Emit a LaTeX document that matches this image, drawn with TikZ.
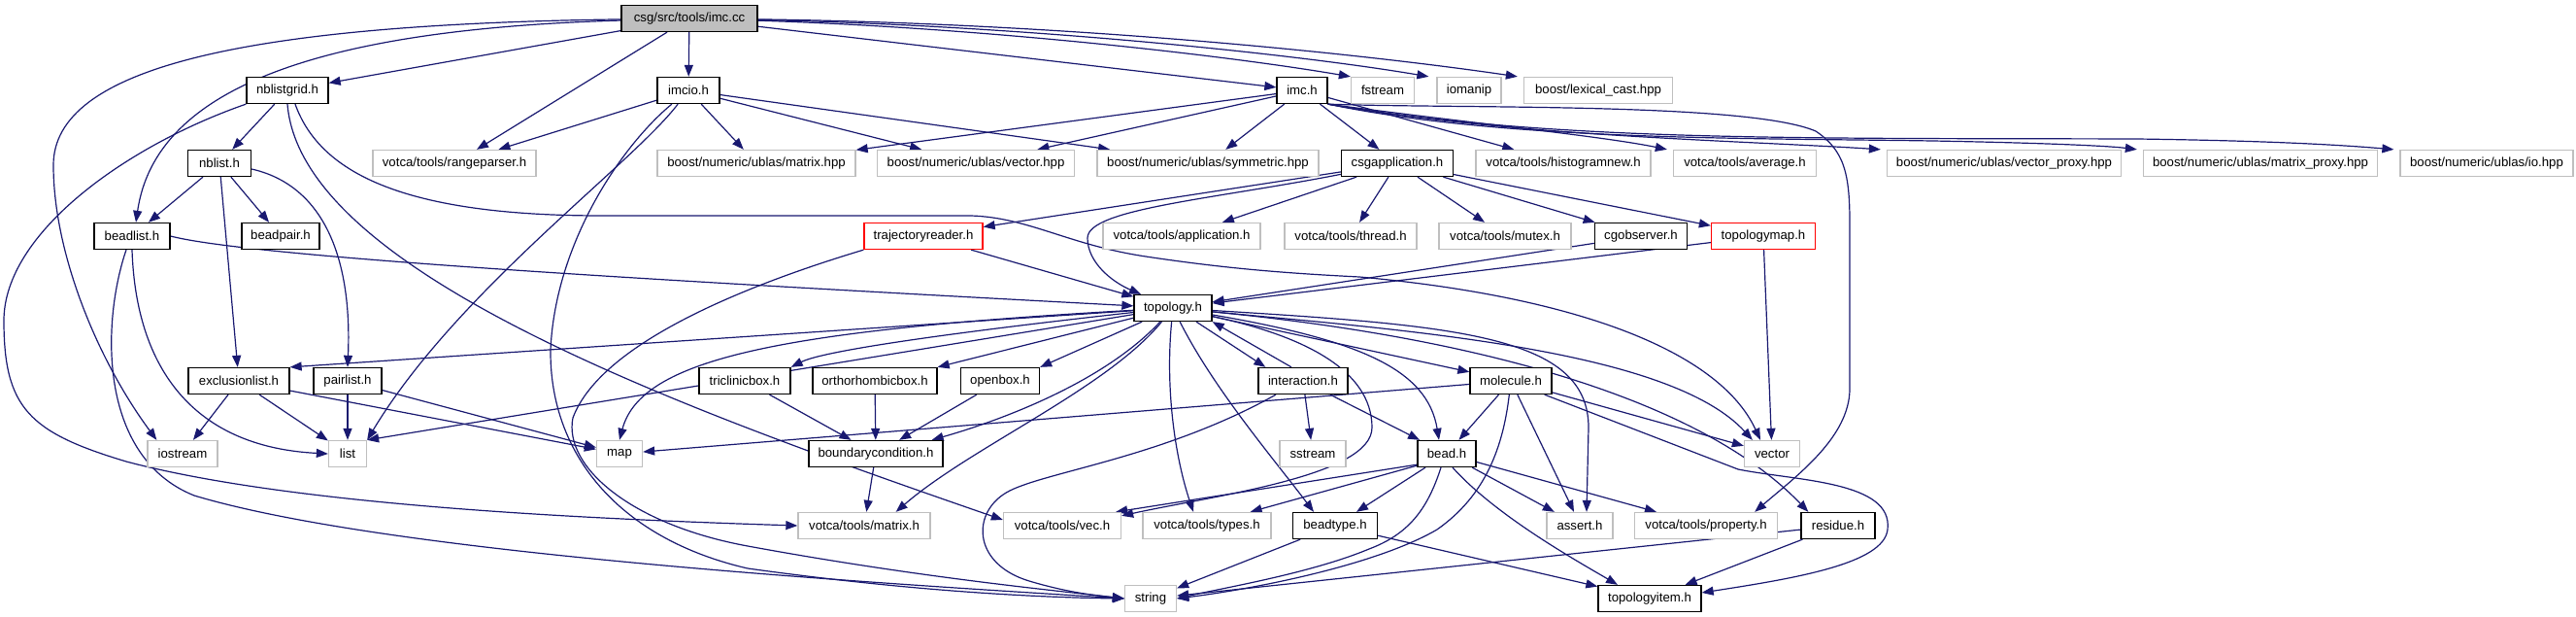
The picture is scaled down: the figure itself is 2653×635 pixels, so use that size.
\documentclass[tikz,border=0pt]{standalone}
\usepackage{fontspec}
\setmainfont{Liberation Sans}
\usetikzlibrary{arrows.meta}
\definecolor{edgeblue}{HTML}{191970}
\definecolor{extgray}{HTML}{BFBFBF}
\definecolor{incred}{HTML}{FF0000}
\pgfdeclarelayer{bg}
\pgfsetlayers{bg,main}
\tikzset{
  box/.style={rectangle, fill=white, minimum height=13.5pt, inner sep=0pt, line width=0.65pt, font=\fontsize{6.6pt}{7.5pt}\selectfont},
  doc/.style={box, draw=black},
  ext/.style={box, draw=extgray},
  redbox/.style={box, draw=incred},
  cur/.style={box, draw=black, fill=extgray},
  dep/.style={draw=edgeblue, line width=0.6pt, -{Triangle[length=6pt,width=4.5pt]}}
}
\begin{document}
\begin{tikzpicture}[x=0.5pt,y=-0.5pt]
\useasboundingbox (0,0) rectangle (2653,635);
% row 0
\node[cur, minimum width=70pt] (imccc) at (710,19) {csg/src/tools/imc.cc};
% row 1
\node[doc, minimum width=42pt] (nblistgrid) at (296,93) {nblistgrid.h};
\node[doc, minimum width=32pt] (imcio) at (709,93) {imcio.h};
\node[doc, minimum width=26pt] (imch) at (1341,93) {imc.h};
\node[ext, minimum width=32.5pt] (fstream) at (1424,93) {fstream};
\node[ext, minimum width=33pt] (iomanip) at (1513,93) {iomanip};
\node[ext, minimum width=76.5pt] (lexical) at (1646,93) {boost/lexical\_cast.hpp};
% row 2
\node[doc, minimum width=32.5pt] (nblist) at (226,168) {nblist.h};
\node[ext, minimum width=84pt] (rangeparser) at (468,168) {votca/tools/rangeparser.h};
\node[ext, minimum width=102pt] (matrixhpp) at (779,168) {boost/numeric/ublas/matrix.hpp};
\node[ext, minimum width=101.5pt] (vectorhpp) at (1005,168) {boost/numeric/ublas/vector.hpp};
\node[ext, minimum width=114pt] (symmetric) at (1244,168) {boost/numeric/ublas/symmetric.hpp};
\node[doc, minimum width=57.5pt] (csgapp) at (1439,168) {csgapplication.h};
\node[ext, minimum width=90pt] (histogram) at (1610,168) {votca/tools/histogramnew.h};
\node[ext, minimum width=73.5pt] (average) at (1797,168) {votca/tools/average.h};
\node[ext, minimum width=120.5pt] (vecproxy) at (2064,168) {boost/numeric/ublas/vector\_proxy.hpp};
\node[ext, minimum width=120.5pt] (matproxy) at (2328,168) {boost/numeric/ublas/matrix\_proxy.hpp};
\node[ext, minimum width=89pt] (iohpp) at (2561,168) {boost/numeric/ublas/io.hpp};
% row 3
\node[doc, minimum width=39pt] (beadlist) at (136,243) {beadlist.h};
\node[doc, minimum width=40pt] (beadpair) at (289,243) {beadpair.h};
\node[redbox, minimum width=61pt] (trajreader) at (951,243) {trajectoryreader.h};
\node[ext, minimum width=81pt] (application) at (1217,243) {votca/tools/application.h};
\node[ext, minimum width=68pt] (thread) at (1391,243) {votca/tools/thread.h};
\node[ext, minimum width=68pt] (mutex) at (1550,243) {votca/tools/mutex.h};
\node[doc, minimum width=47.5pt] (cgobserver) at (1690,243) {cgobserver.h};
\node[redbox, minimum width=53.5pt] (topomap) at (1816,243) {topologymap.h};
% row 4
\node[doc, minimum width=40pt] (topology) at (1208,317) {topology.h};
% row 5
\node[doc, minimum width=52pt] (exclusion) at (246,392) {exclusionlist.h};
\node[doc, minimum width=35pt] (pairlist) at (358,392) {pairlist.h};
\node[doc, minimum width=47pt] (triclinic) at (767,392) {triclinicbox.h};
\node[doc, minimum width=64pt] (ortho) at (901,392) {orthorhombicbox.h};
\node[doc, minimum width=40.5pt] (openbox) at (1030,392) {openbox.h};
\node[doc, minimum width=46pt] (interaction) at (1342,392) {interaction.h};
\node[doc, minimum width=42pt] (molecule) at (1556,392) {molecule.h};
% row 6
\node[ext, minimum width=36pt] (iostream) at (188,467) {iostream};
\node[ext, minimum width=19.5pt] (list) at (358,467) {list};
\node[ext, minimum width=23.5pt] (map) at (638,467) {map};
\node[doc, minimum width=69pt] (boundary) at (902,467) {boundarycondition.h};
\node[ext, minimum width=34pt] (sstream) at (1352,467) {sstream};
\node[doc, minimum width=30pt] (bead) at (1490,467) {bead.h};
\node[ext, minimum width=28.5pt] (vector) at (1825,467) {vector};
% row 7
\node[ext, minimum width=68pt] (matrixh) at (890,541) {votca/tools/matrix.h};
\node[ext, minimum width=60.5pt] (vech) at (1094,541) {votca/tools/vec.h};
\node[ext, minimum width=66pt] (typesh) at (1243,541) {votca/tools/types.h};
\node[doc, minimum width=43.5pt] (beadtype) at (1375,541) {beadtype.h};
\node[ext, minimum width=34pt] (asserth) at (1627,541) {assert.h};
\node[ext, minimum width=73.5pt] (property) at (1757,541) {votca/tools/property.h};
\node[doc, minimum width=38pt] (residue) at (1893,541) {residue.h};
% row 8
\node[ext, minimum width=26.5pt] (string) at (1185,616) {string};
\node[doc, minimum width=53pt] (topoitem) at (1699,616) {topologyitem.h};

\begin{pgfonlayer}{bg}
% imc.cc
\draw[dep] (imccc) -- (nblistgrid);
\draw[dep] (imccc) -- (imcio);
\draw[dep] (imccc) -- (imch);
\draw[dep] (imccc) .. controls (1000,28) and (1250,55) .. (fstream.north west);
\draw[dep] (imccc) .. controls (1050,26) and (1330,55) .. ([xshift=-4pt]iomanip.north west);
\draw[dep] (imccc) .. controls (1100,24) and (1400,55) .. ([xshift=-3pt]lexical.north west);
\draw[dep] (imccc) -- (rangeparser);
\draw[dep] (imccc) .. controls (330,30) and (160,90) .. ([xshift=2pt]beadlist.north);
\draw[dep] (imccc) .. controls (250,25) and (55,70) .. (55,170) .. controls (55,260) and (100,370) .. ([xshift=5pt]iostream.north west);
% nblistgrid
\draw[dep] (nblistgrid) -- (nblist);
\draw[dep] (nblistgrid.south west) .. controls (130,150) and (4,240) .. (4,330) .. controls (4,420) and (30,445) .. (130,475) .. controls (300,520) and (600,534) .. (matrixh.west);
\draw[dep] (nblistgrid.south) .. controls (310,280) and (700,420) .. ([yshift=3pt]vech.west);
\draw[dep] ([xshift=4pt]nblistgrid.south) .. controls (330,180) and (420,222) .. (620,222) -- (1000,222) .. controls (1060,224) and (1100,252) .. (1180,264) .. controls (1260,276) and (1320,281) .. (1400,285) .. controls (1620,305) and (1770,360) .. ([xshift=-6pt]vector.north);
% nblist
\draw[dep] (nblist) -- (beadlist);
\draw[dep] (nblist) -- (beadpair);
\draw[dep] (nblist) -- (exclusion);
\draw[dep] ([yshift=-3pt]nblist.east) .. controls (330,190) and (363,260) .. (pairlist.north);
% beadlist
\draw[dep] (beadlist.east) .. controls (260,265) and (700,290) .. (topology);
\draw[dep] (beadlist.south) .. controls (140,380) and (200,460) .. (list.west);
\draw[dep] ([xshift=-3pt]beadlist.south) .. controls (105,330) and (100,470) .. (200,510) .. controls (400,570) and (900,600) .. (string.west);
% imcio
\draw[dep] (imcio) -- (rangeparser);
\draw[dep] (imcio) -- (matrixhpp);
\draw[dep] (imcio) -- (vectorhpp);
\draw[dep] (imcio) -- (symmetric);
\draw[dep] (imcio) .. controls (650,170) and (470,300) .. (list.north east);
\draw[dep] (imcio) .. controls (640,150) and (572,250) .. (567,360) .. controls (566,470) and (640,555) .. (770,585) .. controls (950,610) and (1080,615) .. (string.west);
% trajectoryreader
\draw[dep] (trajreader) -- (topology);
\draw[dep] (trajreader.south west) .. controls (780,290) and (620,350) .. (590,430) .. controls (580,480) and (650,540) .. (770,562) .. controls (950,595) and (1090,608) .. (string.west);
% csgapplication
\draw[dep] (csgapp) -- (trajreader);
\draw[dep] (csgapp) .. controls (1250,205) and (1120,215) .. (1120,245) .. controls (1120,270) and (1145,290) .. (topology);
\draw[dep] (csgapp) -- (application);
\draw[dep] (csgapp) -- (thread);
\draw[dep] (csgapp) -- (mutex);
\draw[dep] (csgapp) -- (cgobserver);
\draw[dep] (csgapp) -- (topomap);
% imc.h
\draw[dep] (imch) -- (matrixhpp);
\draw[dep] (imch) -- (vectorhpp);
\draw[dep] (imch) -- (symmetric);
\draw[dep] (imch) -- (csgapp);
\draw[dep] (imch) -- (histogram);
\draw[dep] (imch.south east) .. controls (1500,125) and (1650,140) .. ([xshift=-3pt]average.north west);
\draw[dep] (imch.south east) .. controls (1550,140) and (1800,145) .. ([xshift=-3pt]vecproxy.north west);
\draw[dep] (imch.south east) .. controls (1550,145) and (1800,142) .. (1990,145) .. controls (2100,147) and (2170,150) .. ([xshift=-3pt]matproxy.north west);
\draw[dep] (imch.south east) .. controls (1600,146) and (1850,142) .. (2200,143) .. controls (2350,145) and (2420,150) .. ([xshift=-3pt]iohpp.north west);
\draw[dep] (imch.south east) .. controls (1500,112) and (1800,105) .. (1870,135) .. controls (1900,155) and (1905,180) .. (1905,230) -- (1905,400) .. controls (1905,450) and (1850,490) .. ([xshift=-12pt]property.north east);
% cgobserver, topologymap
\draw[dep] (cgobserver) -- (topology);
\draw[dep] (topomap) -- (topology);
\draw[dep] (topomap) -- (vector);
% topology
\draw[dep] (topology) -- (exclusion.north east);
\draw[dep] (topology) -- (list.north east);
\draw[dep] (topology) .. controls (800,340) and (660,370) .. (map.north);
\draw[dep] (topology) .. controls (1000,340) and (850,360) .. (triclinic.north east);
\draw[dep] (topology) -- (ortho.north east);
\draw[dep] (topology) -- (openbox.north east);
\draw[dep] (topology) .. controls (1140,390) and (1040,430) .. ([xshift=-6pt]boundary.north east);
\draw[dep] (topology) .. controls (1140,400) and (1000,460) .. ([xshift=-18pt]matrixh.north east);
\draw[dep] (topology) .. controls (1200,400) and (1210,470) .. ([xshift=-7pt]typesh.north);
\draw[dep] (topology) .. controls (1250,400) and (1310,470) .. ([xshift=-11pt]beadtype.north);
\draw[dep] (topology) .. controls (1340,345) and (1413,380) .. (1413,440) .. controls (1413,490) and (1250,510) .. ([yshift=-2pt]vech.north east);
\draw[dep] (topology) .. controls (1400,350) and (1470,380) .. ([xshift=-4pt]bead.north);
\draw[dep] (topology) -- (molecule);
\draw[dep] (topology) .. controls (1450,340) and (1720,360) .. ([xshift=4.5pt]vector.north west);
\draw[dep] (topology) .. controls (1500,335) and (1636,345) .. (1636,440) -- ([xshift=3.5pt]asserth.north);
\draw[dep] (topology) .. controls (1550,350) and (1760,420) .. ([xshift=4pt]residue.north west);
\draw[dep] ([xshift=12pt]topology.south) -- ([xshift=4pt]interaction.north west);
% interaction
\draw[dep] ([xshift=-6pt]interaction.north) -- (topology.south east);
\draw[dep] (interaction) -- (sstream);
\draw[dep] (interaction) -- (bead);
\draw[dep] ([xshift=-14pt]interaction.south) .. controls (1200,470) and (1080,485) .. (1040,505) .. controls (1000,525) and (1000,580) .. (1060,598) .. controls (1100,610) and (1130,613) .. (string.west);
% molecule
\draw[dep] (molecule) -- (map);
\draw[dep] (molecule) -- (bead);
\draw[dep] (molecule) -- ([xshift=-3pt]asserth.north);
\draw[dep] (molecule) -- (vector);
\draw[dep] (molecule) .. controls (1548,460) and (1530,510) .. (1480,545) .. controls (1420,580) and (1300,605) .. (string.east);
\draw[dep] ([xshift=-4pt]molecule.south east) -- (1790,483) .. controls (1850,495) and (1950,495) .. (1944,545) .. controls (1940,580) and (1850,595) .. ([yshift=3pt]topoitem.east);
% bead
\draw[dep] (bead) -- (beadtype);
\draw[dep] (bead) -- (asserth);
\draw[dep] (bead) -- (property);
\draw[dep] ([xshift=3pt]bead.south) .. controls (1540,530) and (1620,575) .. ([xshift=-16.5pt]topoitem.north);
\draw[dep] ([xshift=-3pt]bead.south) .. controls (1470,525) and (1450,550) .. (1410,565) .. controls (1350,590) and (1260,605) .. (string.east);
\draw[dep] ([yshift=1.5pt]bead.south west) -- ([xshift=-3pt]vech.north east);
\draw[dep] ([yshift=1pt]bead.south west) -- ([xshift=-11pt]typesh.north east);
% beadtype, residue
\draw[dep] (beadtype) -- (string);
\draw[dep] (beadtype) -- (topoitem);
\draw[dep] (residue) -- (string);
\draw[dep] (residue) -- (topoitem);
% boxes
\draw[dep] (boundary) -- (matrixh);
\draw[dep] (triclinic) -- (boundary);
\draw[dep] (ortho) -- (boundary);
\draw[dep] (openbox) -- (boundary);
% exclusionlist, pairlist
\draw[dep] (exclusion) -- (iostream);
\draw[dep] (exclusion) -- (list);
\draw[dep] (exclusion) -- (map);
\draw[dep] (pairlist) -- (list);
\draw[dep] (pairlist) -- (map);
\end{pgfonlayer}
\end{tikzpicture}
\end{document}
